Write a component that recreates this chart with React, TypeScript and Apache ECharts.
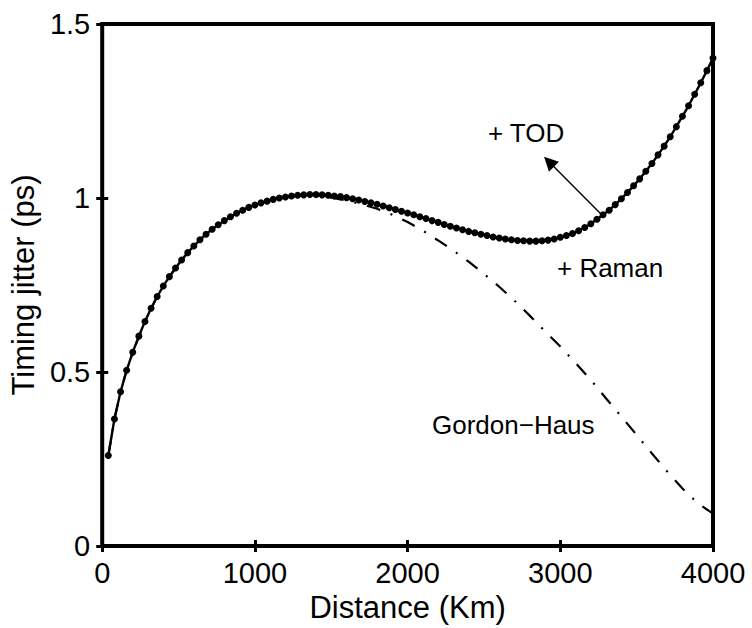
import React, { useEffect, useRef } from "react";
import * as echarts from "echarts";

// Total timing jitter (TOD + Raman), sampled every 40 km
const distanceKm = [
  40, 80, 120, 160, 200, 240, 280, 320, 360, 400,
  440, 480, 520, 560, 600, 640, 680, 720, 760, 800,
  840, 880, 920, 960, 1000, 1040, 1080, 1120, 1160, 1200,
  1240, 1280, 1320, 1360, 1400, 1440, 1480, 1520, 1560, 1600,
  1640, 1680, 1720, 1760, 1800, 1840, 1880, 1920, 1960, 2000,
  2040, 2080, 2120, 2160, 2200, 2240, 2280, 2320, 2360, 2400,
  2440, 2480, 2520, 2560, 2600, 2640, 2680, 2720, 2760, 2800,
  2840, 2880, 2920, 2960, 3000, 3040, 3080, 3120, 3160, 3200,
  3240, 3280, 3320, 3360, 3400, 3440, 3480, 3520, 3560, 3600,
  3640, 3680, 3720, 3760, 3800, 3840, 3880, 3920, 3960, 4000,
];
const jitterTotal = [
  0.260, 0.365, 0.443, 0.505, 0.557, 0.603, 0.645, 0.683, 0.717, 0.747,
  0.774, 0.799, 0.822, 0.843, 0.862, 0.880, 0.896, 0.910, 0.923, 0.935,
  0.946, 0.956, 0.965, 0.973, 0.980, 0.986, 0.991, 0.996, 1.000, 1.003,
  1.006, 1.008, 1.009, 1.010, 1.010, 1.009, 1.008, 1.006, 1.004, 1.001,
  0.998, 0.994, 0.990, 0.986, 0.982, 0.977, 0.972, 0.967, 0.962, 0.957,
  0.952, 0.946, 0.941, 0.935, 0.930, 0.924, 0.919, 0.914, 0.909, 0.904,
  0.900, 0.896, 0.892, 0.888, 0.885, 0.882, 0.880, 0.878, 0.877, 0.876,
  0.876, 0.877, 0.879, 0.882, 0.887, 0.892, 0.898, 0.906, 0.915, 0.926,
  0.939, 0.952, 0.965, 0.981, 0.998, 1.016, 1.035, 1.055, 1.077, 1.099,
  1.124, 1.149, 1.176, 1.205, 1.235, 1.265, 1.298, 1.331, 1.366, 1.402,
];

// Gordon-Haus jitter alone
const ghDistanceKm = [
  40, 80, 120, 160, 200, 280, 360, 440, 520, 600,
  700, 800, 900, 1000, 1100, 1200, 1300, 1400, 1500, 1600,
  1700, 1800, 1900, 2000, 2100, 2200, 2300, 2400, 2500, 2600,
  2700, 2800, 2900, 3000, 3100, 3200, 3300, 3400, 3500, 3600,
  3700, 3800, 3900, 4000,
];
const ghJitter = [
  0.260, 0.365, 0.443, 0.505, 0.557, 0.645, 0.717, 0.774, 0.822, 0.862,
  0.903, 0.935, 0.960, 0.980, 0.993, 1.002, 1.007, 1.006, 1.001, 0.993,
  0.982, 0.969, 0.952, 0.931, 0.906, 0.878, 0.849, 0.817, 0.782, 0.745,
  0.705, 0.662, 0.617, 0.573, 0.526, 0.477, 0.424, 0.372, 0.319, 0.266,
  0.214, 0.165, 0.123, 0.093,
];

const xTicks = ["0", "1000", "2000", "3000", "4000"];
const yTicks = ["0", "0.5", "1", "1.5"];

// Annotations: [distance, jitter, text]
const annotations: [number, number, string][] = [
  [2776, 1.188, "+ TOD"],
  [3326, 0.798, "+ Raman"],
  [2692, 0.348, "Gordon\u2212Haus"],
];
// Arrow from curve toward "+ TOD"
const arrowFrom: [number, number] = [3271, 0.952];
const arrowTo: [number, number] = [2926, 1.104];

const FONT = "'Liberation Sans', Arial, Helvetica, sans-serif";

export default function App() {
  const ref = useRef<HTMLDivElement>(null);
  useEffect(() => {
    const chart = echarts.init(ref.current!, null, { renderer: "svg" });
    const tick = { show: true, inside: true, length: 6, lineStyle: { color: "#000", width: 3 } };
    const tickStyle = { fontSize: 29, color: "#000", fontFamily: FONT };
    const nameStyle = { fontSize: 31, color: "#000", fontFamily: FONT };
    const xBase = {
      type: "value" as const,
      min: 0,
      max: 4000,
      interval: 1000,
      axisLine: { show: false },
      axisTick: tick,
      splitLine: { show: false },
    };
    const yBase = {
      type: "value" as const,
      min: 0,
      max: 1.5,
      interval: 0.5,
      axisLine: { show: false },
      axisTick: tick,
      splitLine: { show: false },
    };
    chart.setOption({
      animation: false,
      backgroundColor: "#fff",
      grid: {
        left: 102,
        right: 39,
        top: 24,
        bottom: 78,
        show: true,
        borderColor: "#000",
        borderWidth: 4,
        backgroundColor: "transparent",
      },
      xAxis: [
        {
          ...xBase,
          position: "bottom",
          name: "Distance (Km)",
          nameLocation: "middle",
          nameGap: 46,
          nameTextStyle: nameStyle,
          axisLabel: {
            ...tickStyle,
            margin: 12,
            formatter: (v: number) => xTicks[Math.round(v / 1000)] ?? String(v),
          },
        },
        { ...xBase, position: "top", axisLabel: { show: false } },
      ],
      yAxis: [
        {
          ...yBase,
          position: "left",
          name: "Timing jitter (ps)",
          nameLocation: "middle",
          nameGap: 58,
          nameTextStyle: nameStyle,
          axisLabel: {
            ...tickStyle,
            margin: 12,
            formatter: (v: number) => yTicks[Math.round(v / 0.5)] ?? String(v),
          },
        },
        { ...yBase, position: "right", axisLabel: { show: false } },
      ],
      series: [
        {
          type: "line",
          name: "Gordon\u2212Haus",
          xAxisIndex: 0,
          yAxisIndex: 0,
          data: ghDistanceKm.map((d, i) => [d, ghJitter[i]]),
          showSymbol: false,
          symbol: "none",
          lineStyle: { color: "#000", width: 2.2, type: [14, 11, 2, 11], cap: "butt" },
          z: 2,
          silent: true,
        },
        {
          type: "line",
          name: "Total",
          xAxisIndex: 0,
          yAxisIndex: 0,
          data: distanceKm.map((d, i) => [d, jitterTotal[i]]),
          symbol: "circle",
          symbolSize: 7,
          showSymbol: true,
          showAllSymbol: true,
          clip: false,
          itemStyle: { color: "#000", borderWidth: 0 },
          lineStyle: { color: "#000", width: 2.4 },
          z: 3,
          silent: true,
          markLine: {
            silent: true,
            symbol: ["none", "triangle"],
            symbolSize: 14,
            label: { show: false },
            lineStyle: { color: "#000", width: 1.4, type: "solid" },
            emphasis: { disabled: true },
            data: [[{ coord: arrowFrom }, { coord: arrowTo }]],
          },
          markPoint: {
            silent: true,
            symbol: "circle",
            symbolSize: 0,
            itemStyle: { color: "transparent" },
            data: annotations.map(([x, y, t]) => ({
              coord: [x, y],
              label: {
                show: true,
                position: "inside",
                formatter: t,
                fontSize: 26,
                color: "#000",
                fontFamily: FONT,
              },
            })),
          },
        },
      ],
    });
    return () => chart.dispose();
  }, []);
  return (
    <div
      ref={ref}
      style={{ position: "fixed", left: 0, top: 0, width: 752, height: 628, background: "#fff" }}
    />
  );
}
